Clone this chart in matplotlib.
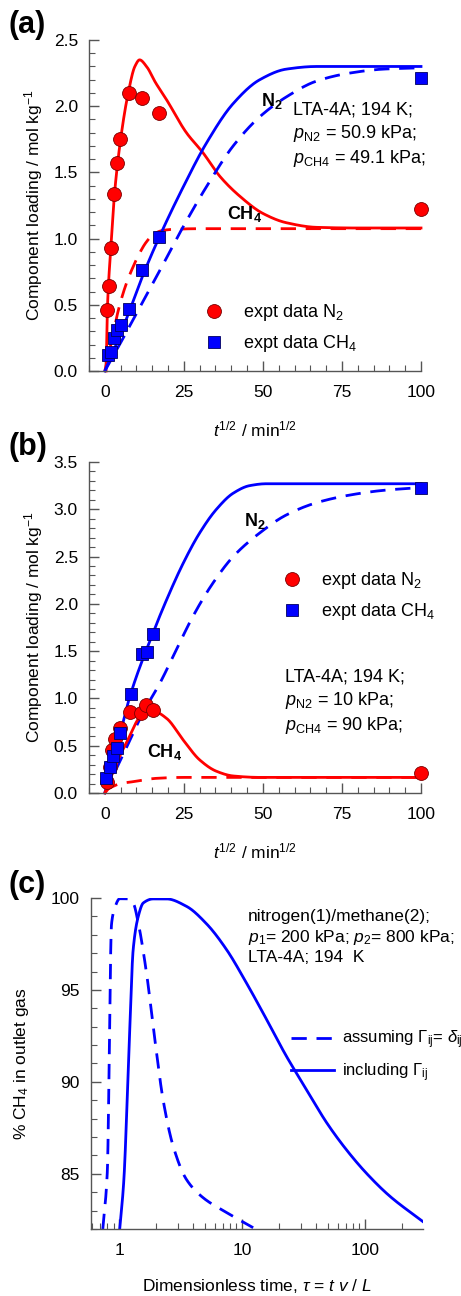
import numpy as np
import matplotlib
matplotlib.use("Agg")
import matplotlib.pyplot as plt
from matplotlib.ticker import MultipleLocator, LogLocator, NullFormatter, FixedLocator, FixedFormatter
from matplotlib.lines import Line2D

plt.rcParams['font.family'] = ['Liberation Sans', 'DejaVu Sans']
plt.rcParams['mathtext.fontset'] = 'custom'
plt.rcParams['mathtext.rm'] = 'Liberation Sans'
plt.rcParams['mathtext.it'] = 'Liberation Sans:italic'
plt.rcParams['mathtext.bf'] = 'Liberation Sans:bold'

# ---------------- data panel (a) ----------------
a_n2_x = [0.84, 1.4, 1.9, 2.95, 3.9, 4.85, 7.8, 11.8, 17.1, 100]
a_n2_y = [0.46, 0.64, 0.93, 1.34, 1.57, 1.75, 2.10, 2.06, 1.95, 1.22]
a_ch4_x = [1.05, 1.8, 2.85, 3.9, 5.27, 7.7, 11.8, 17.2, 100]
a_ch4_y = [0.12, 0.146, 0.25, 0.31, 0.35, 0.47, 0.76, 1.01, 2.21]

a_red_solid_x = [0.4, 0.8, 1.9, 3.0, 5.0, 7.4, 9.5, 11.0, 13.2, 16, 19.5, 25.8, 31, 36.4, 42.7, 50, 57.4, 67, 80, 100]
a_red_solid_y = [0.0, 0.46, 0.93, 1.32, 1.75, 2.10, 2.30, 2.35, 2.30, 2.18, 2.05, 1.80, 1.65, 1.47, 1.32, 1.19, 1.12, 1.085, 1.08, 1.08]
a_red_dash_x = [0, 1.0, 2.6, 4.5, 6.8, 9.0, 11, 13, 15.3, 18, 21.6, 30, 100]
a_red_dash_y = [0, 0.10, 0.28, 0.48, 0.66, 0.79, 0.89, 0.97, 1.03, 1.06, 1.07, 1.075, 1.075]
a_blue_solid_x = [0, 4, 7.9, 12, 17.2, 24.8, 32.1, 40.6, 49, 57.4, 67, 80, 100]
a_blue_solid_y = [0, 0.22, 0.46, 0.72, 1.01, 1.39, 1.72, 2.02, 2.20, 2.28, 2.30, 2.30, 2.30]
a_blue_dash_x = [0, 4, 9, 16.3, 24.8, 32.1, 40.6, 49, 57.4, 67, 77.4, 88, 100]
a_blue_dash_y = [0, 0.17, 0.39, 0.71, 1.09, 1.39, 1.70, 1.92, 2.07, 2.19, 2.25, 2.28, 2.29]

# ---------------- data panel (b) ----------------
b_n2_x = [0.8, 1.5, 2.4, 3.3, 4.7, 7.9, 11.6, 12.9, 15.1, 100]
b_n2_y = [0.12, 0.27, 0.45, 0.57, 0.69, 0.86, 0.85, 0.93, 0.88, 0.21]
b_ch4_x = [0.5, 1.6, 2.6, 3.7, 4.7, 8.2, 11.9, 13.2, 15.1, 100]
b_ch4_y = [0.16, 0.27, 0.39, 0.48, 0.63, 1.05, 1.47, 1.49, 1.68, 3.23]

b_blue_solid_x = [0, 4, 8.2, 15.1, 19.5, 24.8, 30, 35.3, 40.6, 45.8, 51, 60, 100]
b_blue_solid_y = [0, 0.52, 1.05, 1.68, 2.04, 2.43, 2.75, 3.00, 3.17, 3.25, 3.27, 3.27, 3.27]
b_blue_dash_x = [0, 6, 12.1, 17.4, 22.7, 27.9, 34.2, 40.6, 49, 57.4, 67, 77.4, 88, 100]
b_blue_dash_y = [0, 0.42, 0.85, 1.16, 1.52, 1.87, 2.22, 2.50, 2.75, 2.94, 3.07, 3.15, 3.20, 3.23]
b_red_solid_x = [0, 3, 6.8, 12.1, 16.3, 19.5, 24.8, 30, 35.3, 40.6, 49, 60, 100]
b_red_solid_y = [0, 0.26, 0.53, 0.83, 0.85, 0.79, 0.56, 0.35, 0.23, 0.18, 0.165, 0.165, 0.165]
b_red_dash_x = [0, 1.0, 2.6, 5, 9, 16.3, 24.8, 40, 100]
b_red_dash_y = [0, 0.04, 0.07, 0.10, 0.12, 0.155, 0.165, 0.165, 0.165]

# ---------------- data panel (c) ----------------
c_dash_x = [0.736, 0.80, 0.867, 0.92, 1.01, 1.18, 1.30, 1.43, 1.67, 1.95, 2.28, 2.75, 3.52, 4.82, 7.46, 12.3]
c_dash_y = [82.0, 85.05, 98.6, 99.46, 99.96, 99.96, 99.73, 98.64, 95.9, 92.3, 89.0, 86.5, 84.7, 83.7, 82.9, 82.07]
c_solid_x = [1.01, 1.09, 1.21, 1.30, 1.43, 1.57, 1.89, 2.43, 3.52, 5.13, 7.46, 10.8, 15.8, 22.9, 33.3, 48.5, 70.7, 102, 158, 296]
c_solid_y = [82.0, 84.6, 92.3, 97.2, 99.0, 99.73, 99.95, 99.95, 99.55, 98.6, 97.2, 95.4, 93.4, 91.4, 89.6, 87.8, 86.3, 85.05, 83.8, 82.4]

RED = '#ff0000'
BLUE = '#0000ff'
SPINE = '#555555'
LW = 2.0
DASH = (0, (5.5, 3.5))
FS_TXT = 13
FS_TICK = 12.5
FS_LAB = 12.5

fig = plt.figure(figsize=(4.61, 12.96), dpi=100)
W, H = 461.0, 1296.0

def add_ax(l, t, r, b):
    return fig.add_axes([l / W, 1 - b / H, (r - l) / W, (b - t) / H])

def style(ax):
    for s in ['top', 'right']:
        ax.spines[s].set_visible(False)
    for s in ['left', 'bottom']:
        ax.spines[s].set_color(SPINE)
        ax.spines[s].set_linewidth(1.0)
    ax.tick_params(which='both', direction='in', colors=SPINE, labelcolor='black', labelsize=FS_TICK)
    ax.tick_params(which='major', length=7, width=1.0)
    ax.tick_params(which='minor', length=4, width=0.8)
    ax.tick_params(axis='x', pad=10)
    ax.tick_params(axis='y', pad=8)

def smooth(x, y):
    x = np.asarray(x, float); y = np.asarray(y, float)
    h = np.diff(x); d = np.diff(y) / h
    m = np.zeros_like(y)
    m[0] = d[0]; m[-1] = d[-1]
    for i in range(1, len(y) - 1):
        if d[i - 1] * d[i] <= 0:
            m[i] = 0
        else:
            w1 = 2 * h[i] + h[i - 1]; w2 = h[i] + 2 * h[i - 1]
            m[i] = (w1 + w2) / (w1 / d[i - 1] + w2 / d[i])
    xs = []; ys = []
    for i in range(len(x) - 1):
        t = np.linspace(0, 1, 30, endpoint=False)
        hh = h[i]
        h00 = 2*t**3 - 3*t**2 + 1; h10 = t**3 - 2*t**2 + t
        h01 = -2*t**3 + 3*t**2; h11 = t**3 - t**2
        xs.append(x[i] + t * hh)
        ys.append(h00*y[i] + h10*hh*m[i] + h01*y[i+1] + h11*hh*m[i+1])
    xs.append([x[-1]]); ys.append([y[-1]])
    return np.concatenate(xs), np.concatenate(ys)

def smooth_log(x, y):
    lx, yy = smooth(np.log10(x), y)
    return 10 ** lx, yy

leg_handles = [Line2D([], [], marker='o', ms=10, mfc=RED, mec='#7a0000', mew=0.6, ls='none'),
               Line2D([], [], marker='s', ms=8, mfc=BLUE, mec='#000060', mew=0.6, ls='none')]

# ---------------- panel (a) ----------------
ax = add_ax(89, 40, 421, 371)
style(ax)
ax.plot(*smooth(a_red_solid_x, a_red_solid_y), color=RED, lw=LW, clip_on=False)
ax.plot(*smooth(a_red_dash_x, a_red_dash_y), color=RED, lw=LW, ls=DASH, clip_on=False)
ax.plot(*smooth(a_blue_solid_x, a_blue_solid_y), color=BLUE, lw=LW, clip_on=False)
ax.plot(*smooth(a_blue_dash_x, a_blue_dash_y), color=BLUE, lw=LW, ls=DASH, clip_on=False)
ax.plot(a_n2_x, a_n2_y, 'o', ms=10, mfc=RED, mec='#7a0000', mew=0.6, ls='none', clip_on=False, zorder=5)
ax.plot(a_ch4_x, a_ch4_y, 's', ms=8, mfc=BLUE, mec='#000060', mew=0.6, ls='none', clip_on=False, zorder=5)
ax.set_xlim(-5, 100); ax.set_ylim(0, 2.5)
ax.xaxis.set_major_locator(FixedLocator([0, 25, 50, 75, 100]))
ax.xaxis.set_minor_locator(MultipleLocator(5))
ax.yaxis.set_major_locator(MultipleLocator(0.5))
ax.yaxis.set_minor_locator(MultipleLocator(0.1))
ax.yaxis.set_major_formatter(plt.FuncFormatter(lambda v, p: f"{v:.1f}"))
ax.set_xlabel(r'$t^{1/2}$ / min$^{1/2}$', fontsize=FS_LAB, labelpad=14)
ax.set_ylabel(r'Component loading / mol kg$^{-1}$', fontsize=FS_LAB, labelpad=6)
ax.text(49.5, 2.0, r'$\mathbf{N_2}$', fontsize=FS_TXT, fontweight='bold')
ax.text(38.5, 1.15, r'$\mathbf{CH_4}$', fontsize=FS_TXT, fontweight='bold')
ax.text(59.5, 1.78, 'LTA-4A; 194 K;\n' + r'$p_{\rm N2}$ = 50.9 kPa;' + '\n' + r'$p_{\rm CH4}$ = 49.1 kPa;',
        fontsize=FS_TXT, va='center', linespacing=1.3)
ax.legend(leg_handles, [r'expt data N$_2$', r'expt data CH$_4$'], loc='upper left',
          bbox_to_anchor=((196 - 89) / 332, (371 - 295) / 331), frameon=False, fontsize=FS_TXT,
          handletextpad=1.0, labelspacing=0.55, borderaxespad=0, handlelength=1.2)
fig.text(8 / W, 1 - 25 / H, '(a)', fontsize=22, fontweight='bold', va='center')

# ---------------- panel (b) ----------------
ax = add_ax(89, 462, 421, 793)
style(ax)
ax.plot(*smooth(b_blue_solid_x, b_blue_solid_y), color=BLUE, lw=LW, clip_on=False)
ax.plot(*smooth(b_blue_dash_x, b_blue_dash_y), color=BLUE, lw=LW, ls=DASH, clip_on=False)
ax.plot(*smooth(b_red_solid_x, b_red_solid_y), color=RED, lw=LW, clip_on=False)
ax.plot(*smooth(b_red_dash_x, b_red_dash_y), color=RED, lw=LW, ls=DASH, clip_on=False)
ax.plot(b_n2_x, b_n2_y, 'o', ms=10, mfc=RED, mec='#7a0000', mew=0.6, ls='none', clip_on=False, zorder=5)
ax.plot(b_ch4_x, b_ch4_y, 's', ms=8, mfc=BLUE, mec='#000060', mew=0.6, ls='none', clip_on=False, zorder=6)
ax.set_xlim(-5, 100); ax.set_ylim(0, 3.5)
ax.xaxis.set_major_locator(FixedLocator([0, 25, 50, 75, 100]))
ax.xaxis.set_minor_locator(MultipleLocator(5))
ax.yaxis.set_major_locator(MultipleLocator(0.5))
ax.yaxis.set_minor_locator(MultipleLocator(0.1))
ax.yaxis.set_major_formatter(plt.FuncFormatter(lambda v, p: f"{v:.1f}"))
ax.set_xlabel(r'$t^{1/2}$ / min$^{1/2}$', fontsize=FS_LAB, labelpad=14)
ax.set_ylabel(r'Component loading / mol kg$^{-1}$', fontsize=FS_LAB, labelpad=6)
ax.text(44.0, 2.82, r'$\mathbf{N_2}$', fontsize=FS_TXT, fontweight='bold')
ax.text(13.5, 0.38, r'$\mathbf{CH_4}$', fontsize=FS_TXT, fontweight='bold')
ax.text(57.0, 0.96, 'LTA-4A; 194 K;\n' + r'$p_{\rm N2}$ = 10 kPa;' + '\n' + r'$p_{\rm CH4}$ = 90 kPa;',
        fontsize=FS_TXT, va='center', linespacing=1.3)
ax.legend(leg_handles, [r'expt data N$_2$', r'expt data CH$_4$'], loc='upper left',
          bbox_to_anchor=((274 - 89) / 332, (793 - 563) / 331), frameon=False, fontsize=FS_TXT,
          handletextpad=1.0, labelspacing=0.55, borderaxespad=0, handlelength=1.2)
fig.text(8 / W, 1 - 447 / H, '(b)', fontsize=22, fontweight='bold', va='center')

# ---------------- panel (c) ----------------
ax = add_ax(91, 898, 423, 1229)
style(ax)
ax.set_xscale('log')
ax.plot(*smooth_log(c_dash_x, c_dash_y), color=BLUE, lw=LW, ls=DASH, label=r'assuming $\Gamma_{\rm ij}$= $\delta_{\rm ij}$')
ax.plot(*smooth_log(c_solid_x, c_solid_y), color=BLUE, lw=LW, label=r'including $\Gamma_{\rm ij}$')
ax.set_xlim(0.59, 296); ax.set_ylim(82, 100)
ax.xaxis.set_major_locator(FixedLocator([1, 10, 100]))
ax.xaxis.set_major_formatter(FixedFormatter(['1', '10', '100']))
ax.xaxis.set_minor_locator(LogLocator(base=10, subs=np.arange(2, 10)))
ax.xaxis.set_minor_formatter(NullFormatter())
ax.yaxis.set_major_locator(FixedLocator([85, 90, 95, 100]))
ax.yaxis.set_minor_locator(MultipleLocator(1))
ax.set_xlabel(r'Dimensionless time, $\tau$ = $t$ $v$ / $L$', fontsize=FS_LAB, labelpad=14)
ax.set_ylabel(r'% CH$_4$ in outlet gas', fontsize=FS_LAB, labelpad=14)
ax.text(11.2, 99.4, 'nitrogen(1)/methane(2);\n' + r'$p_1$= 200 kPa; $p_2$= 800 kPa;' + '\nLTA-4A; 194  K',
        fontsize=12.5, va='top', linespacing=1.25)
ax.legend(loc='upper left', bbox_to_anchor=((284 - 91) / 332, (1229 - 1022) / 331), frameon=False,
          fontsize=12, handlelength=2.6, handletextpad=0.5, labelspacing=0.6, borderaxespad=0)
fig.text(8 / W, 1 - 885 / H, '(c)', fontsize=22, fontweight='bold', va='center')

fig.savefig('out.png', dpi=100)
